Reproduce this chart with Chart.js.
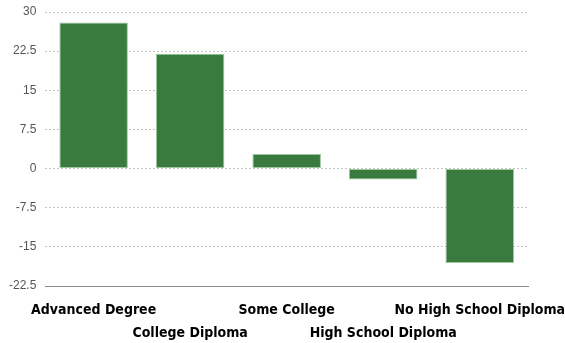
<!DOCTYPE html>
<html>
<head>
<meta charset="utf-8">
<script src="https://cdn.jsdelivr.net/npm/chart.js@4/dist/chart.umd.min.js"></script>
<style>
  html, body { margin: 0; padding: 0; background: #fff; }
  #wrap { width: 565px; height: 343px; }
</style>
</head>
<body>
<div id="wrap"><canvas id="c"></canvas></div>
<script>
const categories = ['Advanced Degree', 'College Diploma', 'Some College', 'High School Diploma', 'No High School Diploma'];
const changeValues = [28, 22, 2.8, -2.1, -18.1];
const yTickValues = [-22.5, -15, -7.5, 0, 7.5, 15, 22.5, 30];

new Chart(document.getElementById('c'), {
  type: 'bar',
  data: {
    labels: categories,
    datasets: [{
      data: changeValues,
      backgroundColor: '#397b3e',
      borderColor: '#9cc79d',
      borderWidth: 1,
      borderSkipped: false,
      categoryPercentage: 1,
      barPercentage: 0.71
    }]
  },
  options: {
    responsive: true,
    maintainAspectRatio: false,
    animation: false,
    layout: { padding: { top: 12, right: 37, left: 0, bottom: 0 } },
    plugins: { legend: { display: false }, tooltip: { enabled: false } },
    scales: {
      x: {
        grid: { display: false, drawTicks: false },
        border: { display: true, color: '#8a8a8a', width: 1 },
        afterFit(scale) {
          // let the long category names run into the side margins
          scale.paddingLeft = 0;
          scale.paddingRight = 0;
          scale.height = 57;
        },
        ticks: {
          autoSkip: false,
          maxRotation: 0,
          minRotation: 0,
          padding: 13,
          color: '#000',
          font: { family: '"DejaVu Sans Condensed", "DejaVu Sans", sans-serif', size: 14, weight: 'bold', lineHeight: 1.64 },
          callback: function (v, i) {
            const name = categories[i];
            return i % 2 === 0 ? [name, ''] : ['', name];
          }
        }
      },
      y: {
        min: -22.5,
        max: 30,
        afterBuildTicks: function (axis) {
          axis.ticks = yTickValues.map(v => ({ value: v }));
        },
        afterFit(scale) {
          scale.paddingTop = 0;
        },
        grid: {
          color: '#c4c4c4',
          lineWidth: 1,
          drawTicks: false
        },
        border: { display: false, dash: [2, 2] },
        ticks: {
          padding: 9,
          color: '#555',
          font: { family: '"Liberation Sans", Arial, sans-serif', size: 12 },
          callback: v => String(v)
        }
      }
    }
  }
});
</script>
</body>
</html>
